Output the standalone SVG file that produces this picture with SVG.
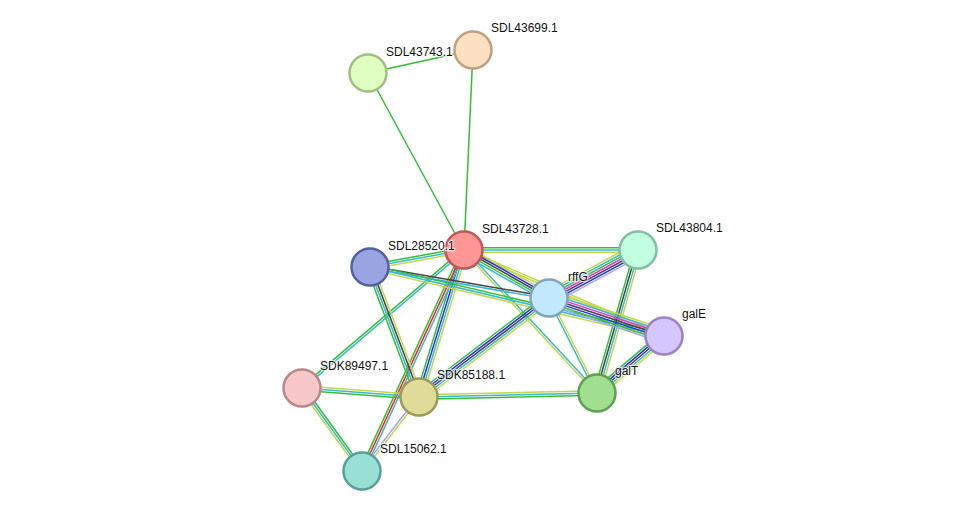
<svg xmlns="http://www.w3.org/2000/svg" width="975" height="516" viewBox="0 0 975 516">
<style>
line{stroke-width:1.5;fill:none}
.g{stroke:#33c033}.c{stroke:#3cb6d6}.y{stroke:#c2d845}.k{stroke:#444}.b{stroke:#2a2ae8}.r{stroke:#f02020}.m{stroke:#e030e0}.l{stroke:#a4a4ff}
circle{stroke-width:2.5}
text{font-family:"Liberation Sans",Arial,sans-serif;font-size:12px;fill:#111;stroke:#fff;stroke-width:2.5;stroke-opacity:0.7;paint-order:stroke;stroke-linejoin:round}
</style>
<rect width="975" height="516" fill="#fff"/>
<g id="edges">
<line class="g" x1="368" y1="73" x2="473" y2="50"/>
<line class="g" x1="368" y1="73" x2="464" y2="250"/>
<line class="g" x1="473" y1="50" x2="464" y2="250"/>
<g transform="translate(464 250)"><line class="g" x1="0" y1="-2.2" x2="174" y2="-2.2"/><line class="c" x1="0" y1="0" x2="174" y2="0"/><line class="y" x1="0" y1="2.2" x2="174" y2="2.2"/></g>
<g transform="translate(464 250) rotate(169.75)"><line class="y" x1="0" y1="-2.2" x2="95.5" y2="-2.2"/><line class="c" x1="0" y1="0" x2="95.5" y2="0"/><line class="g" x1="0" y1="2.2" x2="95.5" y2="2.2"/></g>
<g transform="translate(464 250) rotate(23.27)"><line class="y" x1="0" y1="-1.1" x2="217.7" y2="-1.1"/><line class="y" x1="0" y1="1.1" x2="217.7" y2="1.1"/></g>
<g transform="translate(464 250) rotate(47.07)"><line class="c" x1="0" y1="-1.1" x2="195.3" y2="-1.1"/><line class="y" x1="0" y1="1.1" x2="195.3" y2="1.1"/></g>
<g transform="translate(464 250) rotate(29.45)"><line class="y" x1="0" y1="-4.4" x2="97.6" y2="-4.4"/><line class="b" x1="0" y1="-2.2" x2="97.6" y2="-2.2"/><line class="k" x1="0" y1="0" x2="97.6" y2="0"/><line class="g" x1="0" y1="2.2" x2="97.6" y2="2.2"/><line class="c" x1="0" y1="4.4" x2="97.6" y2="4.4"/></g>
<g transform="translate(464 250) rotate(107.02)"><line class="y" x1="0" y1="-3.3" x2="153.7" y2="-3.3"/><line class="c" x1="0" y1="-1.1" x2="153.7" y2="-1.1"/><line class="b" x1="0" y1="1.1" x2="153.7" y2="1.1"/><line class="g" x1="0" y1="3.3" x2="153.7" y2="3.3"/></g>
<g transform="translate(464 250) rotate(114.78)"><line class="c" x1="0" y1="-2.2" x2="243.4" y2="-2.2"/><line class="r" x1="0" y1="0" x2="243.4" y2="0"/><line class="g" x1="0" y1="2.2" x2="243.4" y2="2.2"/></g>
<g transform="translate(464 250) rotate(139.58)"><line class="c" x1="0" y1="-1.1" x2="212.8" y2="-1.1"/><line class="g" x1="0" y1="1.1" x2="212.8" y2="1.1"/></g>
<g transform="translate(370 267) rotate(9.83)"><line class="k" x1="0" y1="-1.1" x2="181.7" y2="-1.1"/><line class="c" x1="0" y1="1.1" x2="181.7" y2="1.1"/></g>
<g transform="translate(370 267) rotate(13.21)"><line class="g" x1="0" y1="-2.2" x2="302" y2="-2.2"/><line class="c" x1="0" y1="0" x2="302" y2="0"/><line class="y" x1="0" y1="2.2" x2="302" y2="2.2"/></g>
<g transform="translate(370 267) rotate(69.35)"><line class="y" x1="0" y1="-3.3" x2="138.9" y2="-3.3"/><line class="k" x1="0" y1="-1.1" x2="138.9" y2="-1.1"/><line class="c" x1="0" y1="1.1" x2="138.9" y2="1.1"/><line class="g" x1="0" y1="3.3" x2="138.9" y2="3.3"/></g>
<g transform="translate(638 250) rotate(151.66)"><line class="l" x1="0" y1="-6.6" x2="101.1" y2="-6.6"/><line class="b" x1="0" y1="-4.4" x2="101.1" y2="-4.4"/><line class="k" x1="0" y1="-2.2" x2="101.1" y2="-2.2"/><line class="m" x1="0" y1="0" x2="101.1" y2="0"/><line class="g" x1="0" y1="2.2" x2="101.1" y2="2.2"/><line class="c" x1="0" y1="4.4" x2="101.1" y2="4.4"/><line class="y" x1="0" y1="6.6" x2="101.1" y2="6.6"/></g>
<g transform="translate(638 250) rotate(106)"><line class="y" x1="0" y1="-3.3" x2="148.8" y2="-3.3"/><line class="c" x1="0" y1="-1.1" x2="148.8" y2="-1.1"/><line class="k" x1="0" y1="1.1" x2="148.8" y2="1.1"/><line class="g" x1="0" y1="3.3" x2="148.8" y2="3.3"/></g>
<g transform="translate(549 298) rotate(18.29)"><line class="y" x1="0" y1="-6.6" x2="121.1" y2="-6.6"/><line class="c" x1="0" y1="-4.4" x2="121.1" y2="-4.4"/><line class="m" x1="0" y1="-2.2" x2="121.1" y2="-2.2"/><line class="k" x1="0" y1="0" x2="121.1" y2="0"/><line class="b" x1="0" y1="2.2" x2="121.1" y2="2.2"/><line class="g" x1="0" y1="4.4" x2="121.1" y2="4.4"/><line class="l" x1="0" y1="6.6" x2="121.1" y2="6.6"/></g>
<g transform="translate(549 298) rotate(63.19)"><line class="y" x1="0" y1="-1.1" x2="106.4" y2="-1.1"/><line class="c" x1="0" y1="1.1" x2="106.4" y2="1.1"/></g>
<g transform="translate(549 298) rotate(142.71)"><line class="y" x1="0" y1="-4.4" x2="163.4" y2="-4.4"/><line class="c" x1="0" y1="-2.2" x2="163.4" y2="-2.2"/><line class="k" x1="0" y1="0" x2="163.4" y2="0"/><line class="b" x1="0" y1="2.2" x2="163.4" y2="2.2"/><line class="g" x1="0" y1="4.4" x2="163.4" y2="4.4"/></g>
<g transform="translate(664 336) rotate(139.61)"><line class="y" x1="0" y1="-4.4" x2="88" y2="-4.4"/><line class="c" x1="0" y1="-2.2" x2="88" y2="-2.2"/><line class="k" x1="0" y1="0" x2="88" y2="0"/><line class="b" x1="0" y1="2.2" x2="88" y2="2.2"/><line class="g" x1="0" y1="4.4" x2="88" y2="4.4"/></g>
<g transform="translate(419 397) rotate(-1.29)"><line class="y" x1="0" y1="-2.2" x2="178" y2="-2.2"/><line class="c" x1="0" y1="0" x2="178" y2="0"/><line class="g" x1="0" y1="2.2" x2="178" y2="2.2"/></g>
<g transform="translate(302 388) rotate(4.40)"><line class="y" x1="0" y1="-2.2" x2="117.3" y2="-2.2"/><line class="c" x1="0" y1="0" x2="117.3" y2="0"/><line class="g" x1="0" y1="2.2" x2="117.3" y2="2.2"/></g>
<g transform="translate(302 388) rotate(54.14)"><line class="g" x1="0" y1="-2.2" x2="102.4" y2="-2.2"/><line class="c" x1="0" y1="0" x2="102.4" y2="0"/><line class="y" x1="0" y1="2.2" x2="102.4" y2="2.2"/></g>
<g transform="translate(419 397) rotate(127.61)"><line class="y" x1="0" y1="-1.1" x2="93.4" y2="-1.1"/><line class="l" x1="0" y1="1.1" x2="93.4" y2="1.1"/></g>
</g>
<g id="SDL43743.1"><circle cx="368" cy="73" r="18.5" fill="#dfffc0" stroke="#a0c080"/><text x="386" y="56">SDL43743.1</text></g>
<g id="SDL43699.1"><circle cx="473" cy="50" r="18.5" fill="#fde0c2" stroke="#c0a080"/><text x="491" y="32">SDL43699.1</text></g>
<g id="SDL43728.1"><circle cx="464" cy="250" r="18.5" fill="#fe9696" stroke="#c05858"/><text x="482" y="233">SDL43728.1</text></g>
<g id="SDL28520.1"><circle cx="370" cy="267" r="18.5" fill="#9aa4e0" stroke="#5560a0"/><text x="388" y="250">SDL28520.1</text></g>
<g id="SDL43804.1"><circle cx="638" cy="250" r="18.5" fill="#c2fee0" stroke="#82c0a0"/><text x="656" y="232">SDL43804.1</text></g>
<g id="rffG"><circle cx="549" cy="298" r="18.5" fill="#c2e8fe" stroke="#80a4c0"/><text x="568" y="281">rffG</text></g>
<g id="galE"><circle cx="664" cy="336" r="18.5" fill="#d6c6fe" stroke="#9a82c4"/><text x="682" y="318">galE</text></g>
<g id="galT"><circle cx="597" cy="393" r="18.5" fill="#a0de90" stroke="#60a050"/><text x="615" y="375">galT</text></g>
<g id="SDK89497.1"><circle cx="302" cy="388" r="18.5" fill="#f8c8c8" stroke="#b88888"/><text x="320" y="370">SDK89497.1</text></g>
<g id="SDK85188.1"><circle cx="419" cy="397" r="18.5" fill="#dedc98" stroke="#9c9a58"/><text x="437" y="379">SDK85188.1</text></g>
<g id="SDL15062.1"><circle cx="362" cy="471" r="18.5" fill="#98e0d6" stroke="#58a098"/><text x="380" y="453">SDL15062.1</text></g>
</svg>
